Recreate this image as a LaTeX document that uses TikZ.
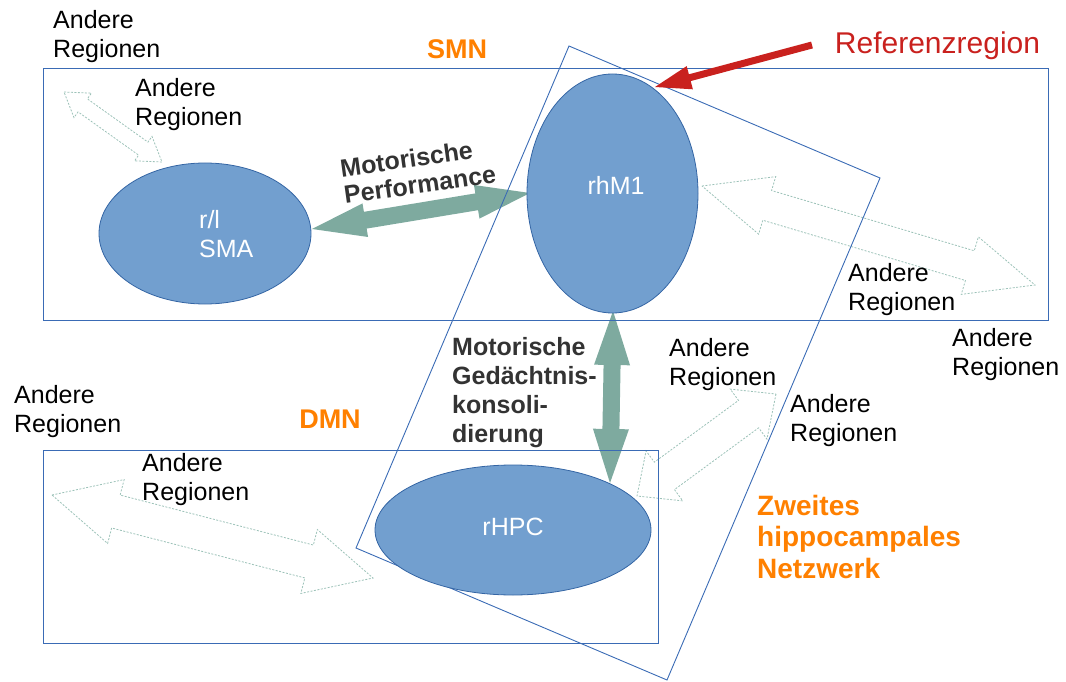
\documentclass[tikz,border=0pt]{standalone}
\usepackage{fontspec}
\setmainfont{Liberation Sans}
\usetikzlibrary{calc,shapes.geometric}
\definecolor{efill}{HTML}{729FCF}
\definecolor{edraw}{HTML}{3465A4}
\definecolor{rectc}{HTML}{3A6BB5}
\definecolor{grn}{HTML}{7EAA9F}
\definecolor{hollowc}{HTML}{9CC2B8}
\definecolor{redc}{HTML}{C9211E}
\definecolor{orng}{HTML}{FF8000}
\definecolor{dgray}{HTML}{333333}
% double block arrow: style, A, B, head length, half head, half shaft
\newcommand\dblarr[6]{%
  \coordinate (ha) at ($(#2)!#4!(#3)$);
  \coordinate (hb) at ($(#3)!#4!(#2)$);
  \draw[#1] (#2) -- ($(ha)!#5!90:(#3)$) -- ($(ha)!#6!90:(#3)$) -- ($(hb)!#6!-90:(#2)$) -- ($(hb)!#5!-90:(#2)$) -- (#3)
    -- ($(hb)!#5!90:(#2)$) -- ($(hb)!#6!90:(#2)$) -- ($(ha)!#6!-90:(#3)$) -- ($(ha)!#5!-90:(#3)$) -- cycle;
}
% single block arrow: style, tail, tip, head length, half head, half shaft
\newcommand\sglarr[6]{%
  \coordinate (hb) at ($(#3)!#4!(#2)$);
  \draw[#1] ($(#2)!#6!90:(#3)$) -- ($(hb)!#6!-90:(#2)$) -- ($(hb)!#5!-90:(#2)$) -- (#3)
    -- ($(hb)!#5!90:(#2)$) -- ($(hb)!#6!90:(#2)$) -- ($(#2)!#6!-90:(#3)$) -- cycle;
}
\begin{document}
\begin{tikzpicture}[x=1pt,y=-1pt,
  hollow/.style={draw=hollowc, dash pattern=on 2pt off 1.5pt, line width=0.8pt, line join=miter},
  green/.style={fill=grn, draw=none},
  redarr/.style={fill=redc, draw=none},
  frame/.style={draw=rectc, line width=0.9pt},
  region/.style={ellipse, fill=efill, draw=edraw, line width=0.8pt, inner sep=0},
  lbl/.style={font=\fontsize{25}{29}\selectfont, align=left, anchor=west, inner sep=0, text=black},
  wlbl/.style={font=\fontsize{25}{29}\selectfont, align=left, inner sep=0, text=white},
  blbl/.style={font=\fontsize{25}{29}\selectfont\bfseries, align=left, inner sep=0, text=dgray},
  olbl/.style={font=\fontsize{27}{31.5}\selectfont\bfseries, align=left, inner sep=0, text=orng}]
\useasboundingbox (0,0) rectangle (1066,682);
% hollow arrows
\coordinate (hA1) at (64,92);   \coordinate (hA2) at (162,162);
\coordinate (hB1) at (702,186); \coordinate (hB2) at (1035,285);
\coordinate (hC1) at (52,495);  \coordinate (hC2) at (373,578);
\coordinate (hD1) at (776,394); \coordinate (hD2) at (637,496);
\dblarr{hollow}{hA1}{hA2}{23pt}{15pt}{8pt}
\dblarr{hollow}{hB1}{hB2}{68pt}{30pt}{15.5pt}
\dblarr{hollow}{hC1}{hC2}{66pt}{33pt}{17pt}
\dblarr{hollow}{hD1}{hD2}{34pt}{31pt}{17pt}
% green arrows
\coordinate (g1) at (312,229); \coordinate (g2) at (530,193);
\coordinate (g3) at (613,311); \coordinate (g4) at (610,483);
\dblarr{green}{g1}{g2}{54pt}{17pt}{8.5pt}
\dblarr{green}{g3}{g4}{54pt}{18pt}{8.5pt}
% frames
\draw[frame] (43,68) rectangle (1048,320);
\draw[frame] (43,450) rectangle (658,643);
\draw[frame] (569,46) -- (880,178) -- (667,680) -- (356,548) -- cycle;
% regions
\node[region, minimum width=212pt, minimum height=141pt] (sma) at (205,233.5) {};
\node[region, minimum width=171pt, minimum height=239pt] (rhm) at (612.5,193.5) {};
\node[region, minimum width=276pt, minimum height=130pt] (rhpc) at (513,530) {};
\node[wlbl, anchor=west] (smat) at (199,234) {r/l\\SMA};
\node[wlbl, anchor=base] (rhmt) at (616,194) {rhM1};
\node[wlbl, anchor=base] (rhpct) at (513,535.5) {rHPC};
% labels
\node[lbl] (l1) at (53,37) {Andere\\Regionen};
\node[lbl] (l2) at (135,104.5) {Andere\\Regionen};
\node[lbl] (l3) at (848,290) {Andere\\Regionen};
\node[lbl] (l4) at (952,355) {Andere\\Regionen};
\node[lbl] (l5) at (669,365) {Andere\\Regionen};
\node[lbl] (l6) at (790,421) {Andere\\Regionen};
\node[lbl] (l7) at (14,412) {Andere\\Regionen};
\node[lbl] (l8) at (142,480) {Andere\\Regionen};
\node[blbl, rotate=8, font=\fontsize{25}{27}\selectfont\bfseries] (perf) at (418,171) {Motorische\\Performance};
\node[blbl, anchor=west] (gedk) at (452,392.5) {Motorische\\Gedächtnis-\\konsoli-\\dierung};
\node[olbl, anchor=base] (smn) at (457,59) {SMN};
\node[olbl, anchor=base] (dmn) at (330,428) {DMN};
\node[olbl, anchor=west, font=\fontsize{28}{31.5}\selectfont\bfseries] (zweit) at (757,536.5) {Zweites\\hippocampales\\Netzwerk};
\node[anchor=base, inner sep=0, text=redc, font=\fontsize{30}{34}\selectfont] (ref) at (937.5,54) {Referenzregion};
% red arrow
\coordinate (r1) at (812,45); \coordinate (r2) at (655,87);
\sglarr{redarr}{r1}{r2}{36pt}{12pt}{3.5pt}
\end{tikzpicture}
\end{document}
